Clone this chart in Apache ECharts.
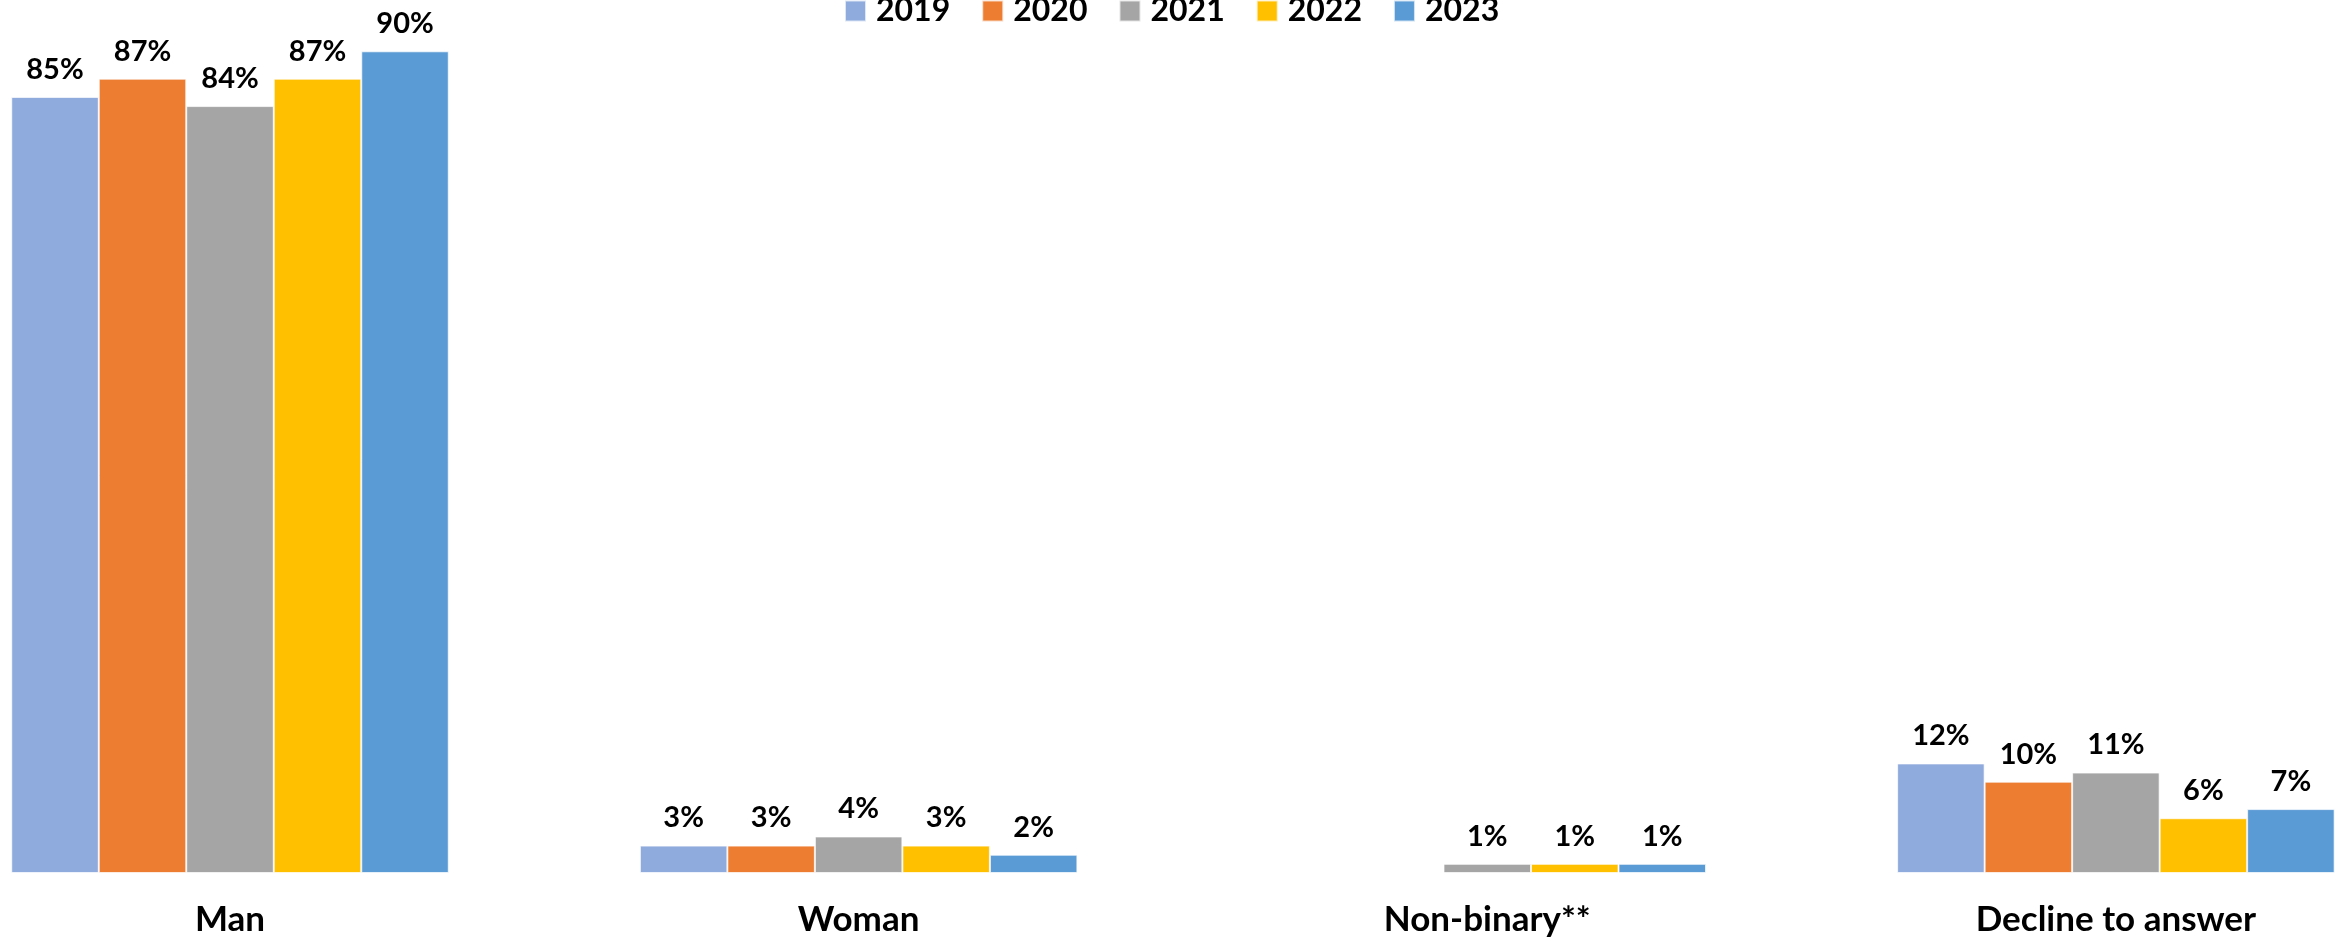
<!DOCTYPE html>
<html>
<head>
<meta charset="utf-8">
<script src="https://cdn.jsdelivr.net/npm/echarts@6/dist/echarts.min.js"></script>
<style>
html,body{margin:0;padding:0;background:#fff;}
#chart{width:2343px;height:940px;}
</style>
</head>
<body>
<div id="chart"></div>
<script>
var categories = ['Man', 'Woman', 'Non-binary**', 'Decline to answer'];
var years = ['2019', '2020', '2021', '2022', '2023'];
var v2019 = [85, 3, null, 12];
var v2020 = [87, 3, null, 10];
var v2021 = [84, 4, 1, 11];
var v2022 = [87, 3, 1, 6];
var v2023 = [90, 2, 1, 7];
var colors = ['#8FAADC', '#ED7D31', '#A5A5A5', '#FFC000', '#5B9BD5'];

var seriesValues = [v2019, v2020, v2021, v2022, v2023];
var FONT = 'Lato';

var chart = echarts.init(document.getElementById('chart'));
var series = years.map(function (y, i) {
  return {
    name: y,
    type: 'bar',
    data: seriesValues[i],
    barGap: '0%',
    barCategoryGap: '30.4%',
    itemStyle: { color: colors[i], borderColor: 'rgba(255,255,255,0.7)', borderWidth: 1 },
    label: {
      show: true,
      position: 'top',
      distance: 13,
      formatter: function (p) { return p.value == null ? '' : p.value + '%'; },
      color: '#000',
      fontFamily: FONT,
      fontWeight: 'bold',
      fontSize: 29
    }
  };
});

chart.setOption({
  animation: false,
  color: colors,
  legend: {
    data: years,
    left: 839,
    top: -10,
    itemWidth: 21,
    itemHeight: 21,
    itemGap: 31,
    icon: 'rect',
    textStyle: { color: '#000', fontFamily: FONT, fontWeight: 'bold', fontSize: 32, padding: [0, 0, 0, 5] }
  },
  grid: { left: -84.3, right: -87.2, top: -40, bottom: 67, containLabel: false, outerBoundsMode: 'none' },
  xAxis: {
    type: 'category',
    data: categories,
    axisLine: { show: false },
    axisTick: { show: false },
    axisLabel: { color: '#000', fontFamily: FONT, fontWeight: 'bold', fontSize: 35, margin: 29 }
  },
  yAxis: {
    type: 'value',
    min: 0,
    max: 100,
    show: false,
    splitLine: { show: false }
  },
  series: series
});
</script>
</body>
</html>
